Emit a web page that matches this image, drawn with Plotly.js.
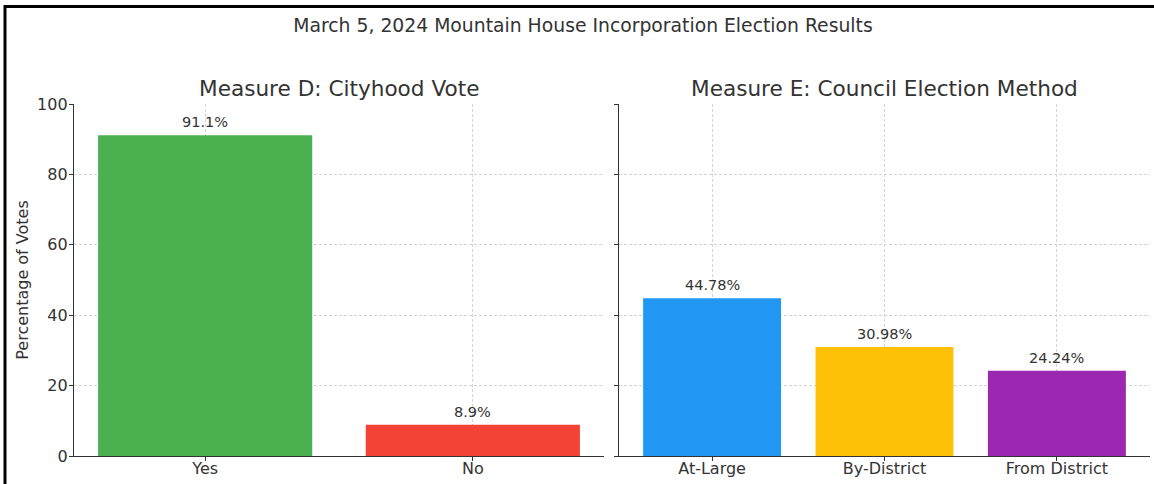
<!DOCTYPE html>
<html>
<head>
<meta charset="utf-8">
<script src="https://cdn.plot.ly/plotly-3.0.1.min.js"></script>
<style>
  html, body { margin: 0; padding: 0; background: #fff; }
  #chart { width: 1154px; height: 484px; }
</style>
</head>
<body>
<div id="chart"></div>
<script>
// ---- data ----
const chartTitle = 'March 5, 2024 Mountain House Incorporation Election Results';
const measureDTitle = 'Measure D: Cityhood Vote';
const measureETitle = 'Measure E: Council Election Method';
const measureDCategories = ['Yes', 'No'];
const measureDValues = [91.1, 8.9];
const measureDColors = ['#4CAF50', '#F44336'];
const measureECategories = ['At-Large', 'By-District', 'From District'];
const measureEValues = [44.78, 30.98, 24.24];
const measureEColors = ['#2196F3', '#FFC107', '#9C27B0'];
const yTickValues = [0, 20, 40, 60, 80, 100];
const yAxisTitle = 'Percentage of Votes';

// ---- styling ----
const FONT = 'DejaVu Sans, Verdana, sans-serif';
const TXT = '#333333';
const GRID = '#d4d4d4';
const AXIS = '#333333';

const W = 1154, H = 484;
const M = { l: 74, r: 4, t: 104, b: 28 };
const plotW = W - M.l - M.r, plotH = H - M.t - M.b;
const px2x = px => (px - M.l) / plotW;
const py2y = py => (H - M.b - py) / plotH;

const domLeft = [0, px2x(604)];
const domRight = [px2x(619), 1];

const traces = [
  {
    type: 'bar', x: measureDCategories, y: measureDValues,
    marker: { color: measureDColors, line: { width: 0 } },
    width: 0.8, xaxis: 'x', yaxis: 'y', hoverinfo: 'skip'
  },
  {
    type: 'bar', x: measureECategories, y: measureEValues,
    marker: { color: measureEColors, line: { width: 0 } },
    width: 0.8, xaxis: 'x2', yaxis: 'y2', hoverinfo: 'skip'
  }
];

const valueAnn = [];
measureDCategories.forEach((c, i) => valueAnn.push({
  x: c, y: measureDValues[i], xref: 'x', yref: 'y', text: measureDValues[i] + '%',
  showarrow: false, yanchor: 'bottom', yshift: 3, font: { family: FONT, size: 14.5, color: TXT }
}));
measureECategories.forEach((c, i) => valueAnn.push({
  x: c, y: measureEValues[i], xref: 'x2', yref: 'y2', text: measureEValues[i] + '%',
  showarrow: false, yanchor: 'bottom', yshift: 3, font: { family: FONT, size: 14.5, color: TXT }
}));

const subTitles = [
  { text: measureDTitle, x: (domLeft[0] + domLeft[1]) / 2 },
  { text: measureETitle, x: (domRight[0] + domRight[1]) / 2 }
].map(t => ({
  text: t.text, x: t.x, y: 1, xref: 'paper', yref: 'paper', xanchor: 'center', yanchor: 'bottom',
  yshift: 1, showarrow: false, font: { family: FONT, size: 21.6, color: TXT }
}));

const xBase = {
  type: 'category', showgrid: true, gridcolor: GRID, griddash: '3px,2px', gridwidth: 1,
  showline: true, linecolor: AXIS, linewidth: 1.2, ticks: 'outside', ticklen: 4,
  tickcolor: AXIS, tickfont: { family: FONT, size: 16, color: TXT }, fixedrange: true,
  zeroline: false, ticklabelstandoff: -6
};
const yBase = {
  range: [0, 100], tickvals: yTickValues, showgrid: true, gridcolor: GRID, griddash: '3px,2px',
  gridwidth: 1, showline: true, linecolor: AXIS, linewidth: 1.2, ticks: 'outside', ticklen: 4,
  tickcolor: AXIS, tickfont: { family: FONT, size: 16, color: TXT }, zeroline: false,
  fixedrange: true, ticklabelstandoff: -2
};

const layout = {
  width: W, height: H, margin: M, showlegend: false,
  paper_bgcolor: '#ffffff', plot_bgcolor: '#ffffff',
  font: { family: FONT, color: TXT },
  title: {
    text: chartTitle, x: 583 / W, xref: 'container', xanchor: 'center',
    y: 1 - 25 / H, yref: 'container', yanchor: 'middle',
    font: { family: FONT, size: 18.8, color: TXT }
  },
  xaxis: Object.assign({}, xBase, { domain: domLeft, anchor: 'y', range: [-0.49, 1.49] }),
  yaxis: Object.assign({}, yBase, {
    anchor: 'x',
    title: { text: yAxisTitle, standoff: 4, font: { family: FONT, size: 16, color: TXT } }
  }),
  xaxis2: Object.assign({}, xBase, { domain: domRight, anchor: 'y2', range: [-0.54, 2.54] }),
  yaxis2: Object.assign({}, yBase, { anchor: 'x2', showticklabels: false }),
  annotations: subTitles.concat(valueAnn),
  shapes: [{
    type: 'path', xref: 'paper', yref: 'paper',
    path: `M ${px2x(5)},${py2y(490)} L ${px2x(5)},${py2y(6.5)} L ${px2x(1160)},${py2y(6.5)}`,
    line: { color: '#000000', width: 3 }
  }]
};

Plotly.newPlot('chart', traces, layout, { staticPlot: true, displayModeBar: false });
</script>
</body>
</html>
